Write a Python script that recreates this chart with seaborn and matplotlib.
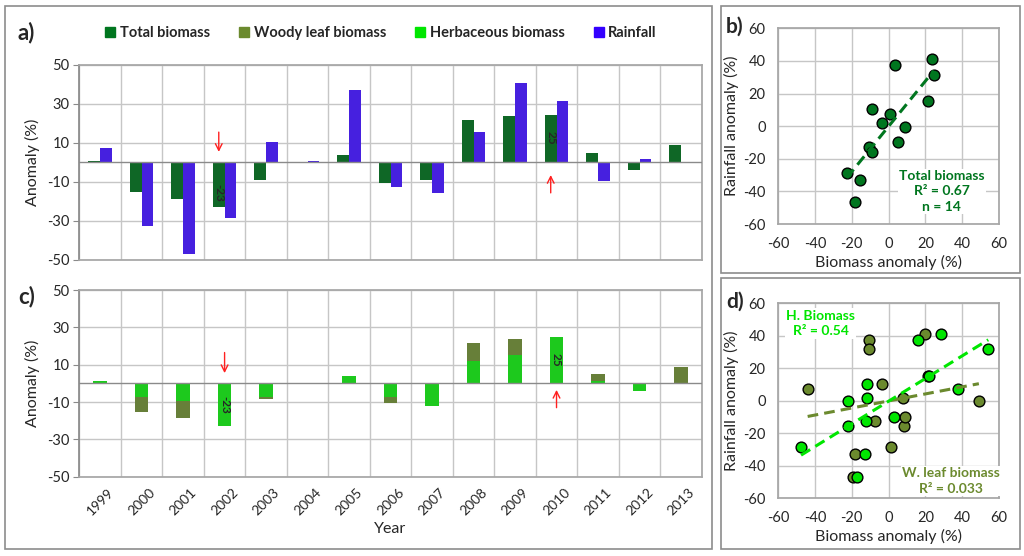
import numpy as np
import pandas as pd
import matplotlib
matplotlib.use("Agg")
import matplotlib.pyplot as plt
from matplotlib.patches import Patch, Rectangle
from matplotlib.ticker import FixedLocator
import seaborn as sns

# values
years = [str(y) for y in range(1999, 2014)]
total_biomass = [1.0, -15.3, -18.5, -22.7, -8.8, np.nan, 3.6, -10.4, -9.1, 21.7, 23.8, 24.6, 5.0, -3.6, 9.2]
rainfall = [7.2, -32.7, -46.7, -28.4, 10.6, 0.7, 37.4, -12.5, -15.6, 15.4, 41.0, 31.6, -9.7, 2.0, -0.4]
herb_part = [1.1, -7.5, -9.6, -22.9, -7.1, np.nan, 4.1, -7.1, -12.3, 12.0, 15.2, 24.8, 1.4, -3.9, 0.0]
woody_part = [0.0, -7.9, -9.1, 0.0, -1.5, np.nan, 0.0, -3.4, 0.0, 9.6, 8.6, 0.0, 3.6, 0.0, 8.9]
herb_anom = [37.6, -12.7, -17.2, -47.6, -12.0, np.nan, 16.0, -12.3, -21.8, 22.2, 28.4, 54.2, 2.7, -11.6, -21.8]
woody_anom = [-44.0, -18.0, -19.4, 1.5, -3.4, np.nan, -10.4, -7.6, 8.2, 21.6, 19.7, -10.7, 9.1, 7.6, 49.1]

c_total = "#00761f"
c_woody = "#6b8a2e"
c_herb = "#00e600"
c_rain = "#3300ff"
grid_c = "#c6c6c6"

sns.set_theme(style="white")
plt.rcParams["font.family"] = ["Lato", "DejaVu Sans"]
plt.rcParams["axes.edgecolor"] = "#a6a6a6"
plt.rcParams["axes.unicode_minus"] = False

fig = plt.figure(figsize=(10.24, 5.56), dpi=100)

# panel frames
for x0, y0, x1, y1 in [(5, 6, 712, 549), (721, 6, 1020, 273), (721, 278, 1020, 549)]:
    fig.patches.append(Rectangle((x0 / 1024, 1 - y1 / 556), (x1 - x0) / 1024, (y1 - y0) / 556,
                                 transform=fig.transFigure, fill=False, ec="#8c8c8c", lw=1.2))

ax_a = fig.add_axes([0.0775, 0.5324, 0.6078, 0.3507])
ax_c = fig.add_axes([0.0775, 0.1426, 0.6078, 0.3358])
ax_b = fig.add_axes([0.760, 0.597, 0.2155, 0.352])
ax_d = fig.add_axes([0.760, 0.1038, 0.2155, 0.3507])

df_a = pd.DataFrame({
    "year": years * 2,
    "value": total_biomass + rainfall,
    "series": ["Total biomass"] * len(years) + ["Rainfall"] * len(years),
})
sns.barplot(df_a, x="year", y="value", hue="series", palette=[c_total, c_rain],
            width=0.56, gap=0, errorbar=None, legend=False, ax=ax_a, zorder=3, linewidth=0)

stack = [h + w for h, w in zip(herb_part, woody_part)]
sns.barplot(x=years, y=stack, color=c_woody, width=0.32, errorbar=None, ax=ax_c, zorder=3, linewidth=0)
sns.barplot(x=years, y=herb_part, color=c_herb, width=0.32, errorbar=None, ax=ax_c, zorder=4, linewidth=0)

for ax in (ax_a, ax_c):
    ax.set_xlim(-0.5, len(years) - 0.5)
    ax.set_ylim(-50, 50)
    ax.set_yticks([-50, -30, -10, 10, 30, 50])
    ax.xaxis.set_minor_locator(FixedLocator(np.arange(-0.5, len(years), 1)))
    ax.grid(True, which="minor", axis="x", color=grid_c, lw=1)
    ax.grid(True, which="major", axis="y", color=grid_c, lw=1)
    ax.axhline(0, color="#8a8a8a", lw=1, zorder=5)
    ax.tick_params(axis="y", left=True, length=4, width=0.8, color="#8a8a8a", labelsize=10.5, pad=3)
    ax.tick_params(axis="x", which="both", bottom=False)
    ax.spines["left"].set_color("#8a8a8a")
    ax.set_ylabel("Anomaly (%)", fontsize=11.5, labelpad=5)
    ax.set_axisbelow(True)

ax_a.set_xticklabels([])
ax_a.set_xlabel("")
ax_c.set_xticks(range(len(years)))
ax_c.set_xticklabels(years, rotation=45, fontsize=10)
ax_c.tick_params(axis="x", pad=1)
ax_c.set_xlabel("Year", fontsize=11.5, labelpad=3)

i02, i10 = years.index("2002"), years.index("2010")
arrow = dict(arrowstyle="->", color="#ff2020", lw=1, mutation_scale=12)
lab = dict(rotation=-90, ha="center", va="center", fontsize=8.5, fontweight="bold", zorder=6)
ax_a.annotate("", xy=(i02 - 0.14, 4), xytext=(i02 - 0.14, 17), arrowprops=arrow)
ax_a.annotate("", xy=(i10 - 0.14, -5), xytext=(i10 - 0.14, -17), arrowprops=arrow)
ax_a.text(i02 - 0.14, -15.5, "%d" % round(total_biomass[i02]), **lab)
ax_a.text(i10 - 0.14, 12.5, "%d" % round(total_biomass[i10]), **lab)
ax_c.annotate("", xy=(i02, 4), xytext=(i02, 18), arrowprops=arrow)
ax_c.annotate("", xy=(i10, -2), xytext=(i10, -14.5), arrowprops=arrow)
ax_c.text(i02, -11.5, "%d" % round(herb_part[i02]), **lab)
ax_c.text(i10, 12.5, "%d" % round(herb_part[i10]), **lab)

# scatter panels
df_s = pd.DataFrame({"total": total_biomass, "rain": rainfall, "herb": herb_anom, "woody": woody_anom}).dropna()

dash = (0, (3.5, 2))
sns.scatterplot(df_s, x="total", y="rain", color=c_total, edgecolor="black", linewidth=1, s=60, ax=ax_b, zorder=3)
sns.regplot(df_s, x="total", y="rain", scatter=False, ci=None, ax=ax_b,
            line_kws=dict(color=c_total, lw=2.2, ls=dash, zorder=4))
ax_b.text(29, -40, "Total biomass\nR² = 0.67\nn = %d" % len(df_s), color=c_total, fontsize=10, fontweight="bold",
          ha="center", va="center", linespacing=1.35, zorder=5,
          bbox=dict(fc="white", ec="none", pad=1))

sns.scatterplot(df_s, x="woody", y="rain", color=c_woody, edgecolor="black", linewidth=1, s=60, ax=ax_d, zorder=3)
sns.scatterplot(df_s, x="herb", y="rain", color=c_herb, edgecolor="black", linewidth=1, s=60, ax=ax_d, zorder=3)
sns.regplot(df_s, x="woody", y="rain", scatter=False, ci=None, ax=ax_d,
            line_kws=dict(color=c_woody, lw=2.2, ls=dash, zorder=4))
sns.regplot(df_s, x="herb", y="rain", scatter=False, ci=None, ax=ax_d,
            line_kws=dict(color=c_herb, lw=2.2, ls=dash, zorder=4))
ax_d.text(-37, 47.5, "H. Biomass\nR² = 0.54", color=c_herb, fontsize=10, fontweight="bold",
          ha="center", va="center", linespacing=1.35, zorder=5, bbox=dict(fc="white", ec="none", pad=1))
ax_d.text(34, -49.5, "W. leaf biomass\nR² = 0.033", color=c_woody, fontsize=10, fontweight="bold",
          ha="center", va="center", linespacing=1.35, zorder=5, bbox=dict(fc="white", ec="none", pad=1))

for ax in (ax_b, ax_d):
    ax.set_xlim(-60, 60)
    ax.set_ylim(-60, 60)
    ax.set_xticks(range(-60, 61, 20))
    ax.set_yticks(range(-60, 61, 20))
    ax.grid(True, color=grid_c, lw=1)
    ax.set_axisbelow(True)
    ax.tick_params(labelsize=10.5, pad=3)
    ax.set_xlabel("Biomass anomaly (%)", fontsize=11.5, labelpad=3)
    ax.set_ylabel("Rainfall anomaly (%)", fontsize=11.5, labelpad=3)

# panel letters
for txt, x, y, fs in [("a)", 17, 33, 16), ("c)", 18, 297, 16), ("b)", 726, 27, 15), ("d)", 726, 302, 15)]:
    fig.text(x / 1024, 1 - y / 556, txt, fontsize=fs, fontweight="bold", va="center", ha="left")

handles = [Patch(fc=c, ec=c) for c in (c_total, c_woody, c_herb, c_rain)]
labels = ["Total biomass", "Woody leaf biomass", "Herbaceous biomass", "Rainfall"]
fig.legend(handles, labels, loc="center", bbox_to_anchor=(0.372, 1 - 33 / 556), ncol=4, frameon=False,
           prop=dict(weight="bold", size=10.5), handlelength=0.7, handleheight=0.7,
           handletextpad=0.3, columnspacing=2.0)

fig.savefig("out.png", dpi=100)
